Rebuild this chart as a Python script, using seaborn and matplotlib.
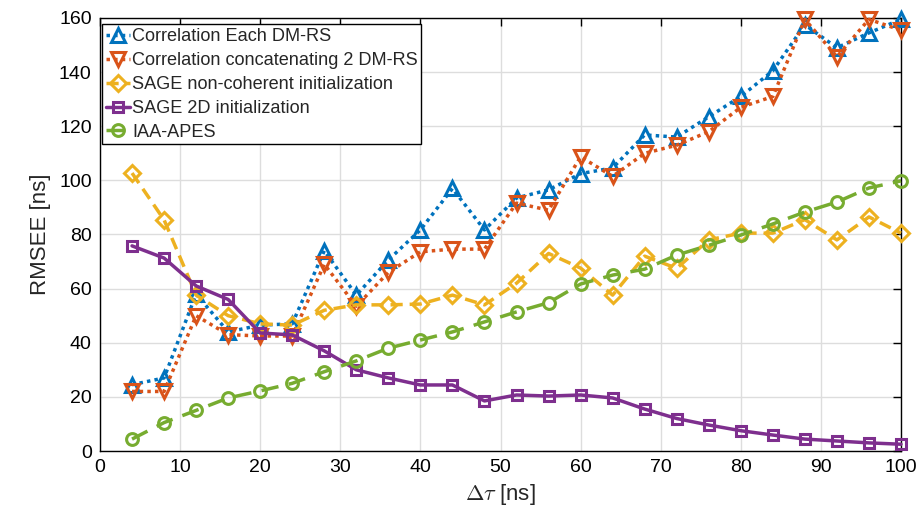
import matplotlib
matplotlib.use("Agg")
import matplotlib.pyplot as plt
import seaborn as sns
import pandas as pd

delta_tau = [4, 8, 12, 16, 20, 24, 28, 32, 36, 40, 44, 48, 52, 56, 60, 64, 68, 72, 76, 80, 84, 88, 92, 96, 100]
corr_each = [24.5, 27, 58, 44, 46.5, 47, 74, 57.6, 70.6, 81.7, 97, 81.7, 93.5, 96.5, 102.5, 104.6, 116.8, 116, 123.5, 131, 140.5, 157.5, 149, 154.5, 159.5]
corr_concat = [22, 22, 50, 43, 42.5, 42.5, 69, 53.5, 66, 73.6, 74.6, 74.6, 91.6, 89, 108.7, 101.5, 110, 113, 118, 127, 131, 159.5, 145.7, 159.5, 155.5]
sage_noncoh = [102.7, 85.4, 57.6, 50, 47, 46.5, 52, 54, 54, 54.3, 57.6, 54, 62, 73, 67.6, 57.6, 72, 67.5, 78, 80.5, 80.5, 85.5, 78, 86.5, 80.5]
sage_2d = [75.8, 71.3, 61, 56, 43.6, 42.9, 37, 30, 27, 24.4, 24.4, 18.5, 20.7, 20.3, 20.7, 19.6, 15.5, 12, 9.6, 7.5, 5.9, 4.4, 3.7, 3, 2.5]
iaa_apes = [4.4, 10.5, 15, 19.6, 22.2, 25, 29.3, 33.3, 38, 41, 44, 47.7, 51.4, 54.8, 61.7, 65, 67.2, 72.4, 76, 79.8, 83.9, 88.3, 92, 97.2, 99.8]

labels = ["Correlation Each DM-RS", "Correlation concatenating 2 DM-RS",
          "SAGE non-coherent initialization", "SAGE 2D initialization", "IAA-APES"]
series = [corr_each, corr_concat, sage_noncoh, sage_2d, iaa_apes]
colors = ["#0072BD", "#D95319", "#EDB120", "#7E2F8E", "#77AC30"]
markers = ["^", "v", "D", "s", "o"]
msizes = [10, 10, 8, 7.5, 8.5]
styles = [(0, (1, 1.2)), (0, (1, 1.2)), (0, (3.5, 2)), "-", (0, (5, 3))]

sns.set_style("white")
plt.rcParams['font.family'] = ['Liberation Sans', 'DejaVu Sans']
plt.rcParams['mathtext.fontset'] = 'cm'

fig = plt.figure(figsize=(9.19, 5.13), dpi=100)
ax = fig.add_axes([100/919, 1-451/513, 801/919, 433/513])

for vals, lab, c, m, ms, ls in zip(series, labels, colors, markers, msizes, styles):
    df = pd.DataFrame({"x": delta_tau, "y": vals})
    sns.lineplot(data=df, x="x", y="y", ax=ax, color=c, marker=m, markersize=ms,
                 markerfacecolor="none", markeredgecolor=c, markeredgewidth=2.2,
                 linewidth=2.5, linestyle=ls, label=lab, clip_on=False, zorder=3)

ax.set_xlim(0, 100)
ax.set_ylim(0, 160)
ax.set_xticks(range(0, 101, 10))
ax.set_yticks(range(0, 161, 20))
ax.grid(True, color="#dddddd", linewidth=1.0, zorder=0)
ax.set_axisbelow(True)
for s in ax.spines.values():
    s.set_color("black")
    s.set_linewidth(1.0)
ax.tick_params(direction="in", length=6, width=1, top=True, right=True,
               labelsize=14, colors="black", pad=6)
ax.set_xlabel(r"$\Delta\tau$ [ns]", fontsize=16, labelpad=4)
ax.set_ylabel("RMSEE [ns]", fontsize=16, labelpad=6)

leg = ax.legend(loc="upper left", bbox_to_anchor=(0.003, 0.985), fontsize=13.1,
                frameon=True, fancybox=False, edgecolor="black", framealpha=1,
                handlelength=1.3, handletextpad=0.12, borderpad=0.2, labelspacing=0.38,
                borderaxespad=0)
leg.get_frame().set_linewidth(1.0)

fig.savefig("out.png", dpi=100)
